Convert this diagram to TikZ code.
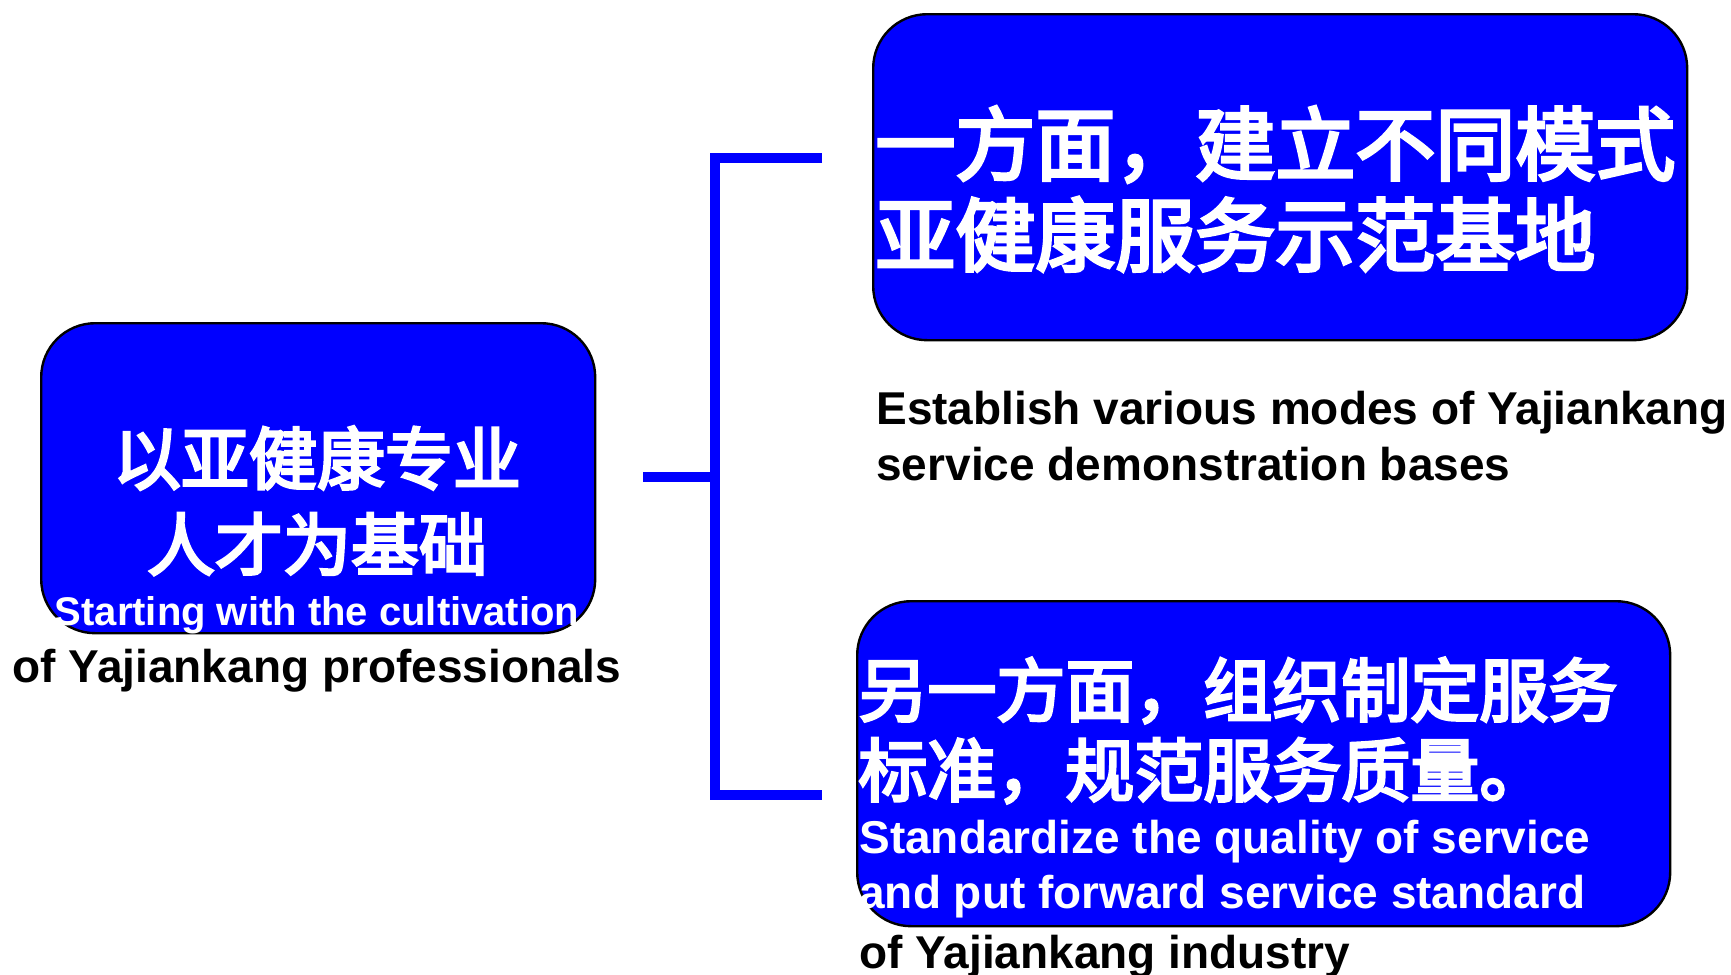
\documentclass[tikz,border=0pt]{standalone}
\usepackage{fontspec}
\setmainfont{Liberation Sans}
\newfontfamily\cjk[FakeBold=4]{Noto Sans CJK SC}
\definecolor{boxblue}{RGB}{0,0,255}
\tikzset{
  box/.style={draw=black, line width=1.2pt, fill=boxblue, rounded corners=27pt, inner sep=0pt, anchor=north west},
  zh/.style={inner sep=0pt, text=white, font=\cjk\fontsize{#1}{#1}\selectfont},
  en/.style={inner sep=0pt, font=\bfseries\fontsize{#1}{#1}\selectfont},
  bracket/.style={draw=boxblue, line width=5pt}
}
\begin{document}
\begin{tikzpicture}[x=0.5pt,y=-0.5pt]
\useasboundingbox (0,0) rectangle (1731,975);
% boxes
\node[box, minimum width=277pt, minimum height=155pt] (left) at (40,322) {};
\node[box, minimum width=407pt, minimum height=163pt] (top) at (872,13) {};
\node[box, minimum width=406.5pt, minimum height=162.5pt] (bot) at (856,600) {};
% bracket
\coordinate (stem) at (643,477);
\coordinate (jmid) at (715,477);
\coordinate (jtop) at (715,158);
\coordinate (jbot) at (715,795);
\coordinate (atop) at (822,158);
\coordinate (abot) at (822,795);
\draw[bracket] (stem) -- (jmid);
\draw[bracket, line join=miter] (atop) -- (jtop) -- (jbot) -- (abot);
% left texts
\node[zh=34, anchor=base] (l1) at (317,484) {以亚健康专业};
\node[zh=34, anchor=base] (l2) at (317,570) {人才为基础};
\node[en=20, anchor=base, text=white] (l3) at (317,625) {Starting with the cultivation};
\node[en=23, anchor=base] (l4) at (317,682) {of Yajiankang professionals};
% top right texts
\node[zh=40, anchor=base west] (t1) at (875,174) {一方面，建立不同模式};
\node[zh=40, anchor=base west] (t2) at (875,265) {亚健康服务示范基地};
\node[en=23, anchor=base west] (t3) at (876,424) {Establish various modes of Yajiankang};
\node[en=23, anchor=base west] (t4) at (876,480) {service demonstration bases};
% bottom right texts
\node[zh=34.5, anchor=base west] (b1) at (858,716) {另一方面，组织制定服务};
\node[zh=34.5, anchor=base west] (b2) at (858,796) {标准，规范服务质量。};
\node[en=23, anchor=base west, text=white] (b3) at (859,853) {Standardize the quality of service};
\node[en=23, anchor=base west, text=white] (b4) at (859,908) {and put forward service standard};
\node[en=23, anchor=base west] (b5) at (859,968) {of Yajiankang industry};
\end{tikzpicture}
\end{document}
